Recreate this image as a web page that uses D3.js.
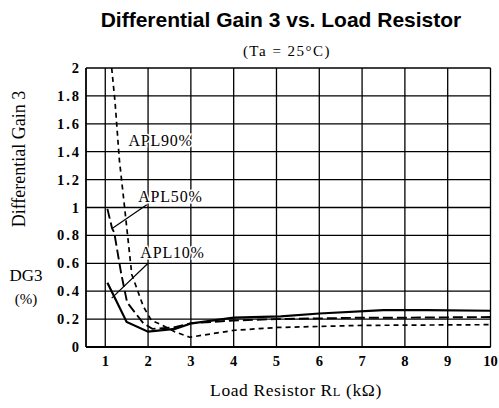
<!DOCTYPE html>
<html>
<head>
<meta charset="utf-8">
<script src="https://cdn.jsdelivr.net/npm/d3@7"></script>
<style>
  body { margin: 0; background: #fff; }
  svg { display: block; }
</style>
</head>
<body>
<svg id="chart" width="499" height="408"></svg>
<script>
const xTicks = [1, 2, 3, 4, 5, 6, 7, 8, 9, 10]
const yTicks = [0, 0.2, 0.4, 0.6, 0.8, 1, 1.2, 1.4, 1.6, 1.8, 2]
const yTickLabels = ['0', '0.2', '0.4', '0.6', '0.8', '1', '1.2', '1.4', '1.6', '1.8', '2']

// [load resistor kΩ, DG3 %]
const apl10 = [[1.05, 0.46], [1.5, 0.18], [2.0, 0.11], [2.63, 0.13], [3.02, 0.17], [4.0, 0.21],
  [5.1, 0.22], [6, 0.24], [7.5, 0.265], [8.5, 0.265], [10, 0.26]]
const apl50 = [[1.05, 0.99], [1.16, 0.85], [1.21, 0.82], [1.37, 0.53], [1.51, 0.32], [1.89, 0.17],
  [2.1, 0.13], [2.6, 0.14], [3, 0.17], [4, 0.19], [5, 0.2], [6, 0.205], [7, 0.21], [8, 0.21], [10, 0.215]]
const apl90 = [[1.15, 2.0], [1.23, 1.75], [1.33, 1.34], [1.42, 1.09], [1.62, 0.52], [1.89, 0.29],
  [2.08, 0.19], [2.31, 0.16], [2.62, 0.11], [2.97, 0.07], [4.02, 0.12], [5.03, 0.14], [7, 0.155], [10, 0.16]]

const seriesNames = ['APL10%', 'APL50%', 'APL90%']
const labelAnchors = [[1.82, 0.64], [1.77, 1.04], [1.54, 1.44]]
const leaders = [[[1.15, 0.35], [2.0, 0.6]], [[1.16, 0.85], [1.97, 1.02]], null]

const svg = d3.select('#chart')

const x = d3.scaleLinear().domain([0.55, 10]).range([86, 490.5])
const y = d3.scaleLinear().domain([0, 2]).range([347, 68])

const serif = '"Liberation Serif", "DejaVu Serif", serif'

// title
svg.append('text')
  .attr('x', 281).attr('y', 27)
  .attr('text-anchor', 'middle')
  .attr('font-family', '"Liberation Sans", Arial, sans-serif')
  .attr('font-weight', 'bold')
  .attr('font-size', 21)
  .text('Differential Gain 3 vs. Load Resistor')

svg.append('text')
  .attr('x', 287).attr('y', 56)
  .attr('text-anchor', 'middle')
  .attr('font-family', serif)
  .attr('font-size', 15)
  .attr('letter-spacing', 1.5)
  .text('(Ta = 25°C)')

// grid
const grid = svg.append('g')
  .attr('stroke', '#000')
  .attr('stroke-width', 1.3)

grid.selectAll('.hgrid')
  .data(yTicks)
  .enter()
  .append('line')
  .attr('x1', x(0.55)).attr('x2', x(10))
  .attr('y1', d => y(d)).attr('y2', d => y(d))

grid.selectAll('.vgrid')
  .data(xTicks)
  .enter()
  .append('line')
  .attr('x1', d => x(d)).attr('x2', d => x(d))
  .attr('y1', y(0)).attr('y2', y(2))

grid.append('line')
  .attr('x1', x(0.55)).attr('x2', x(0.55))
  .attr('y1', y(0)).attr('y2', y(2))
  .attr('stroke-width', 1.8)

grid.append('line')
  .attr('x1', x(0.55)).attr('x2', x(10))
  .attr('y1', y(0)).attr('y2', y(0))
  .attr('stroke-width', 1.8)

// tick labels
svg.append('g')
  .selectAll('text')
  .data(yTicks)
  .enter()
  .append('text')
  .attr('x', 81)
  .attr('y', d => y(d) + 5)
  .attr('text-anchor', 'end')
  .attr('font-family', serif)
  .attr('font-weight', 'bold')
  .attr('font-size', 14.5)
  .attr('letter-spacing', 2)
  .text((d, i) => yTickLabels[i])

svg.append('g')
  .selectAll('text')
  .data(xTicks)
  .enter()
  .append('text')
  .attr('x', d => x(d))
  .attr('y', 366)
  .attr('text-anchor', 'middle')
  .attr('font-family', serif)
  .attr('font-weight', 'bold')
  .attr('font-size', 14.5)
  .text(d => d)

// axis titles
svg.append('text')
  .attr('transform', 'translate(25,159) rotate(-90)')
  .attr('text-anchor', 'middle')
  .attr('font-family', serif)
  .attr('font-size', 18)
  .text('Differential Gain 3')

svg.append('text')
  .attr('x', 26).attr('y', 281)
  .attr('text-anchor', 'middle')
  .attr('font-family', serif)
  .attr('font-size', 17)
  .text('DG3')

svg.append('text')
  .attr('x', 26).attr('y', 304)
  .attr('text-anchor', 'middle')
  .attr('font-family', serif)
  .attr('font-size', 15)
  .text('(%)')

const xTitle = svg.append('text')
  .attr('x', 296).attr('y', 396)
  .attr('text-anchor', 'middle')
  .attr('font-family', serif)
  .attr('font-size', 17.5)
  .attr('letter-spacing', 0.6)
xTitle.append('tspan').text('Load Resistor R')
xTitle.append('tspan').attr('font-size', 12.5).text('L')
xTitle.append('tspan').text('  (kΩ)')

// curves
const line = d3.line()
  .x(d => x(d[0]))
  .y(d => y(d[1]))

const curves = [
  { data: apl10, dash: null, width: 2.2 },
  { data: apl50, dash: '10,4', width: 1.9 },
  { data: apl90, dash: '5,4', width: 1.7 }
]

svg.append('g')
  .attr('fill', 'none')
  .attr('stroke', '#000')
  .selectAll('path')
  .data(curves)
  .enter()
  .append('path')
  .attr('d', d => line(d.data))
  .attr('stroke-width', d => d.width)
  .attr('stroke-dasharray', d => d.dash)

// leader lines and labels
svg.append('g')
  .attr('stroke', '#000')
  .attr('stroke-width', 1.2)
  .selectAll('line')
  .data(leaders.filter(d => d))
  .enter()
  .append('line')
  .attr('x1', d => x(d[0][0])).attr('y1', d => y(d[0][1]))
  .attr('x2', d => x(d[1][0])).attr('y2', d => y(d[1][1]))

svg.append('g')
  .selectAll('text')
  .data(seriesNames)
  .enter()
  .append('text')
  .attr('x', (d, i) => x(labelAnchors[i][0]))
  .attr('y', (d, i) => y(labelAnchors[i][1]))
  .attr('font-family', serif)
  .attr('font-size', 16)
  .attr('letter-spacing', 0.8)
  .attr('paint-order', 'stroke')
  .attr('stroke', '#fff')
  .attr('stroke-width', 3)
  .text(d => d)
</script>
</body>
</html>
